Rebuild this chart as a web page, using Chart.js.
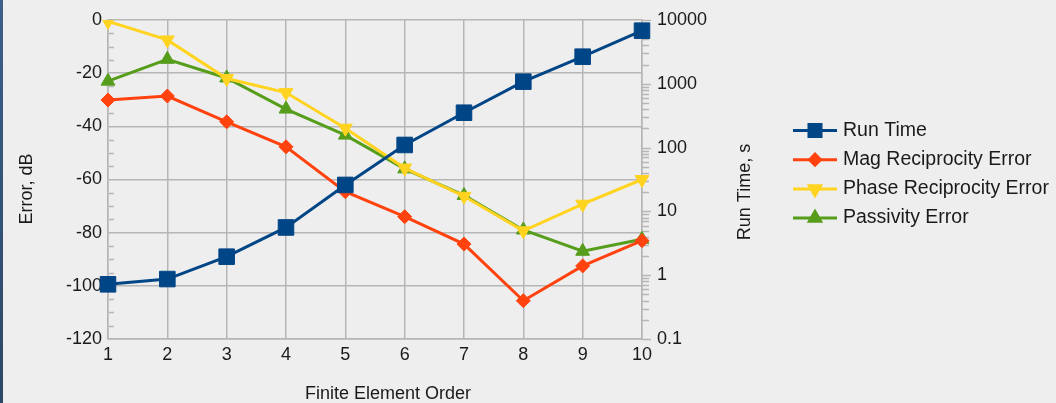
<!DOCTYPE html>
<html><head><meta charset="utf-8">
<script src="https://cdn.jsdelivr.net/npm/chart.js@4.4.1/dist/chart.umd.min.js"></script>
<style>html,body{margin:0;padding:0;background:#eeeeee;overflow:hidden}#wrap{width:1056px;height:403px;position:relative}</style>
</head><body><div id="wrap"><canvas id="c" width="1056" height="403"></canvas></div>
<script>
// ---- data ----
const orders = ['1','2','3','4','5','6','7','8','9','10'];
const runTime = [0.72, 0.87, 1.95, 5.6, 26, 110, 352, 1080, 2660, 6800];
const magRecip = [-30.1, -28.6, -38.3, -47.7, -64.6, -74, -84.3, -105.6, -92.5, -83];
const phaseRecip = [-0.5, -7.5, -22, -27.3, -40.7, -55.7, -66.3, -79.3, -69.3, -60];
const passivity = [-23, -14.8, -21.8, -33.5, -43.3, -56, -66, -79, -87, -82.5];
const errorTicks = [0, -20, -40, -60, -80, -100, -120];
const timeTicks = [0.1, 1, 10, 100, 1000, 10000];
const seriesNames = ['Run Time', 'Mag Reciprocity Error', 'Phase Reciprocity Error', 'Passivity Error'];
const axisTitles = {x: 'Finite Element Order', left: 'Error, dB', right: 'Run Time, s'};

const FONT = 'Liberation Sans';
const GRID = '#b6b6b6';
const TEXT = '#1a1a1a';

const decor = {
  id: 'decor',
  beforeDraw(chart) {
    const ctx = chart.ctx;
    const g = ctx.createLinearGradient(0, 0, 0, chart.height);
    g.addColorStop(0, '#3c608a');
    g.addColorStop(1, '#2b4764');
    ctx.save();
    ctx.fillStyle = g;
    ctx.fillRect(0, 0, 3, chart.height);
    ctx.restore();
  },
  beforeDatasetsDraw(chart) {
    const ctx = chart.ctx;
    const yE = chart.scales.yErr, yT = chart.scales.yTime;
    const L = chart.chartArea.left, R = chart.chartArea.right;
    ctx.save();
    ctx.strokeStyle = GRID;
    ctx.lineWidth = 1.5;
    ctx.beginPath();
    for (let v = yE.min + 5; v < yE.max; v += 5) {
      if (v % 20 === 0) continue;
      const y = Math.round(yE.getPixelForValue(v)) + 0.5;
      ctx.moveTo(L + 1, y); ctx.lineTo(L + 6, y);
    }
    for (let d = yT.min; d < yT.max; d *= 10) {
      for (let k = 1; k <= 9; k++) {
        const v = k * d;
        const y = Math.round(yT.getPixelForValue(v)) + 0.5;
        ctx.moveTo(R, y); ctx.lineTo(R + (k === 1 ? 9 : 7), y);
      }
    }
    const yTop = Math.round(yT.getPixelForValue(yT.max)) + 0.5;
    ctx.moveTo(R, yTop); ctx.lineTo(R + 9, yTop);
    ctx.stroke();
    ctx.restore();
  },
  afterDraw(chart) {
    const ctx = chart.ctx;
    ctx.save();
    ctx.fillStyle = TEXT;
    ctx.font = '18px "' + FONT + '"';
    ctx.textAlign = 'center';
    ctx.textBaseline = 'middle';
    ctx.fillText(axisTitles.x, 388, 394);
    ctx.save();
    ctx.translate(27, 189); ctx.rotate(-Math.PI / 2);
    ctx.fillText(axisTitles.left, 0, 0);
    ctx.restore();
    ctx.save();
    ctx.translate(745, 192); ctx.rotate(-Math.PI / 2);
    ctx.fillText(axisTitles.right, 0, 0);
    ctx.restore();
    // legend
    ctx.font = '19.5px "' + FONT + '"';
    ctx.textAlign = 'left';
    chart.data.datasets.forEach((ds, i) => {
      const y = 130.5 + i * 29.2;
      ctx.strokeStyle = ds.borderColor;
      ctx.lineWidth = 3;
      ctx.beginPath(); ctx.moveTo(793, y); ctx.lineTo(837, y); ctx.stroke();
      ctx.fillStyle = ds.backgroundColor;
      ctx.strokeStyle = ds.borderColor;
      Chart.helpers.drawPoint(ctx, {pointStyle: ds.pointStyle, rotation: ds.pointRotation || 0,
        radius: ds.legendRadius, borderWidth: 1}, 815, y);
      ctx.fillStyle = TEXT;
      ctx.fillText(ds.label, 843, y);
    });
    ctx.restore();
  }
};

const tickFont = {family: FONT, size: 18};
new Chart(document.getElementById('c'), {
  type: 'line',
  data: {
    labels: orders,
    datasets: [
      {label: seriesNames[0], data: runTime, yAxisID: 'yTime', borderColor: '#004586', backgroundColor: '#004586',
       pointStyle: 'rect', pointRadius: 11, legendRadius: 8.5, borderWidth: 3, pointBorderWidth: 1},
      {label: seriesNames[1], data: magRecip, yAxisID: 'yErr', borderColor: '#ff420e', backgroundColor: '#ff420e',
       pointStyle: 'rectRot', pointRadius: 7, legendRadius: 5.5, borderWidth: 3, pointBorderWidth: 1},
      {label: seriesNames[2], data: phaseRecip, yAxisID: 'yErr', borderColor: '#ffd320', backgroundColor: '#ffd320',
       pointStyle: 'triangle', pointRotation: 180, pointRadius: 8, legendRadius: 6.5, borderWidth: 3, pointBorderWidth: 1},
      {label: seriesNames[3], data: passivity, yAxisID: 'yErr', borderColor: '#579d1c', backgroundColor: '#579d1c',
       pointStyle: 'triangle', pointRadius: 8, legendRadius: 6.5, borderWidth: 3, pointBorderWidth: 1}
    ]
  },
  options: {
    responsive: false,
    animation: false,
    events: [],
    layout: {autoPadding: false, padding: {left: 0, top: 20, right: 294, bottom: 0}},
    plugins: {legend: {display: false}, tooltip: {enabled: false}},
    elements: {line: {tension: 0}},
    scales: {
      x: {
        type: 'category', offset: false,
        grid: {color: GRID, lineWidth: 1.5, drawTicks: false},
        border: {color: GRID, width: 1.5},
        ticks: {color: TEXT, font: tickFont, padding: 5, maxRotation: 0, autoSkip: false},
        afterFit(s) { s.height = 64; }
      },
      yErr: {
        type: 'linear', position: 'left', min: -120, max: 0,
        afterBuildTicks(s) { s.ticks = errorTicks.map(v => ({value: v})); },
        grid: {color: GRID, lineWidth: 1.5, drawTicks: false},
        border: {color: GRID, width: 1.5},
        ticks: {color: TEXT, font: tickFont, padding: 6},
        afterFit(s) { s.width = 108; }
      },
      yTime: {
        type: 'logarithmic', position: 'right', min: 0.1, max: 10000,
        afterBuildTicks(s) { s.ticks = timeTicks.map(v => ({value: v})); },
        grid: {display: false, drawTicks: true, tickLength: 13},
        border: {color: GRID, width: 1.5},
        ticks: {color: TEXT, font: tickFont, padding: 2, callback: v => String(v)},
        afterFit(s) { s.width = 120; }
      }
    }
  },
  plugins: [decor]
});
</script></body></html>
